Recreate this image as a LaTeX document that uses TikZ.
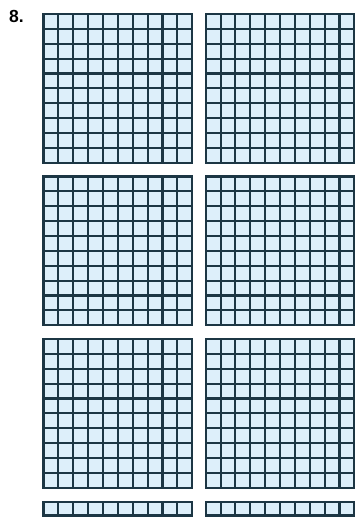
\documentclass[tikz,border=0pt]{standalone}
\usepackage{fontspec}
\setmainfont{Liberation Sans}
\definecolor{blockline}{HTML}{1C3644}
\definecolor{blockfill}{HTML}{DDEFFA}
\tikzset{
  cellline/.style={draw=blockline,line width=2.1pt},
  boxline/.style={draw=blockline,fill=blockfill,line width=2.3pt}
}
\begin{document}
\begin{tikzpicture}[x=1pt,y=-1pt]
\useasboundingbox (0,0) rectangle (355,520);
\node[anchor=north west,inner sep=0pt,font=\bfseries\fontsize{17.5}{17.5}\selectfont] (num) at (9,10) {8.};
% hundreds
\foreach \gx in {43.5,205.7}{
  \foreach \gy in {14,176.5,339}{
    \begin{scope}[shift={(\gx,\gy)}]
      \path[boxline] (0,0) rectangle (148.7,148.7);
      \foreach \i in {1,...,9}{
        \draw[cellline] (\i*14.87,0) -- (\i*14.87,148.7);
        \draw[cellline] (0,\i*14.87) -- (148.7,\i*14.87);
      }
    \end{scope}
  }
}
% tens
\foreach \gx in {43.5,205.7}{
  \begin{scope}[shift={(\gx,502)}]
    \path[boxline] (0,0) rectangle (148.7,13.6);
    \foreach \i in {1,...,9}
      \draw[cellline] (\i*14.87,0) -- (\i*14.87,13.6);
  \end{scope}
}
\end{tikzpicture}
\end{document}
